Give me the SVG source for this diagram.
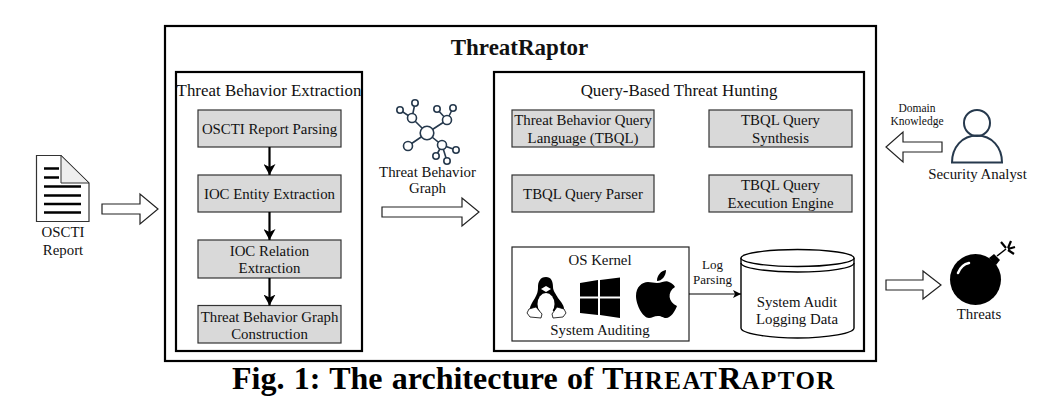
<svg xmlns="http://www.w3.org/2000/svg" width="1054" height="408" viewBox="0 0 1054 408">
<defs>
<marker id="ah" markerUnits="userSpaceOnUse" markerWidth="12" markerHeight="12" refX="11" refY="6" orient="auto"><path d="M0 0L11 6L0 12L3 6Z" fill="#000"/></marker>
<marker id="ahs" markerUnits="userSpaceOnUse" markerWidth="9" markerHeight="8" refX="8" refY="4" orient="auto"><path d="M0 0L8 4L0 8L2 4Z" fill="#000"/></marker>
</defs>
<style>
text{font-family:"Liberation Serif","Times New Roman",serif;font-size:14.850px;text-anchor:middle;fill:#111}
.panel{fill:#fff;stroke:#000;stroke-width:2.2}
.box rect{fill:#d9d9d9;stroke:#333;stroke-width:1.2}
.hollow{fill:#fff;stroke:#222;stroke-width:1.2}
.conn{stroke:#000;stroke-width:2.2;fill:none;marker-end:url(#ah)}
.g{fill:#fff;stroke:#26394d;stroke-width:1.6}
.gl{stroke:#26394d;stroke-width:1.6;fill:none}
.head{font-size:16.900px}
.small{font-size:11.500px}
.log{font-size:13px}
.sc{font-size:25px;letter-spacing:1.500px}
</style>
<rect width="1054" height="408" fill="#fff"/>
<g id="threatraptor"><rect class="panel" x="165" y="26" width="711" height="335"/><text x="519.500" y="55" style="font-size:23px;font-weight:bold">ThreatRaptor</text></g>
<g id="extraction"><rect class="panel" x="176" y="72" width="186" height="279"/><text class="head" x="269" y="96">Threat Behavior Extraction</text></g>
<g id="hunting"><rect class="panel" x="494" y="72" width="370" height="279"/><text class="head" x="679" y="96">Query-Based Threat Hunting</text></g>
<g id="n-parsing" class="box"><rect x="198" y="110" width="143" height="37"/><text x="269.500" y="134">OSCTI Report Parsing</text></g>
<g id="n-entity" class="box"><rect x="198" y="175" width="143" height="37"/><text x="269.500" y="199">IOC Entity Extraction</text></g>
<g id="n-relation" class="box"><rect x="198" y="240" width="143" height="38"/><text x="269.500" y="256">IOC Relation</text><text x="269.500" y="273">Extraction</text></g>
<g id="n-construction" class="box"><rect x="198" y="305.500" width="143" height="37.500"/><text x="269.500" y="322">Threat Behavior Graph</text><text x="269.500" y="339">Construction</text></g>
<g id="n-tbql" class="box"><rect x="512" y="110" width="142" height="37"/><text x="583" y="125">Threat Behavior Query</text><text x="583" y="143">Language (TBQL)</text></g>
<g id="n-synth" class="box"><rect x="709" y="110" width="143" height="37"/><text x="780.500" y="125">TBQL Query</text><text x="780.500" y="143">Synthesis</text></g>
<g id="n-parser" class="box"><rect x="512" y="175" width="142" height="37"/><text x="583" y="199">TBQL Query Parser</text></g>
<g id="n-engine" class="box"><rect x="709" y="175" width="143" height="37"/><text x="780.500" y="190">TBQL Query</text><text x="780.500" y="208">Execution Engine</text></g>
<g id="n-kernel">
<rect x="512" y="247" width="177" height="94" fill="#fff" stroke="#222" stroke-width="1.2"/>
<text x="600" y="265">OS Kernel</text><text x="600" y="335">System Auditing</text>
<g id="linux">
<path d="M546 277c-6 0-8 5-8 10 0 5-1 7-3 11-3 5-6 9-5 13l8 2 4-3h10l4 3 8-2c1-5-3-9-6-13-2-4-5-7-5-11 0-6-2-10-7-10z" fill="#000"/>
<ellipse cx="546" cy="304" rx="8.500" ry="11" fill="#fff"/>
<path d="M541 289l5-3 5 3-5 3z" fill="#fff"/>
<path d="M529 309l7-2 6 7-1 4-11-1-3-4zM564 309l-7-2-5 7 1 4 10-1 3-4z" fill="#fff" stroke="#000" stroke-width="0.800"/>
</g>
<path id="windows" d="M580 283l18-3v16.500h-18zM600 280l20-2.500v19h-20zM580 298.500h18v16.500l-18-2zM600 298.500h20v19.500l-20-3z" fill="#000"/>
<path id="apple" d="M657 283c5 0 9-3 12-1 3 1 5 3 6 5-8 5-7 15 2 19-2 5-6 12-11 12-3 0-4-2-8-2s-6 2-9 2c-6 0-13-13-13-22 0-9 6-14 12-14 3 0 6 1 9 1zM657 281c0-6 4-10 9-11 0 6-4 11-9 11z" fill="#000"/>
</g>
<g id="n-audit">
<path d="M741 258v70c0 5 25 10 56.500 10s56.500-5 56.500-10v-70" fill="#fff" stroke="#000" stroke-width="1.4"/>
<ellipse cx="797.500" cy="258" rx="56.500" ry="8.500" fill="#fff" stroke="#000" stroke-width="1.400"/>
<path d="M741 263c0 5 25 9 56.500 9s56.500-4 56.500-9" fill="none" stroke="#000" stroke-width="1.400"/>
<text x="797" y="307">System Audit</text><text x="797" y="324">Logging Data</text>
</g>
<g id="n-report">
<path d="M36.500 155.500H61L89 183V221.500H36.500Z" fill="#fff" stroke="#333" stroke-width="1.200"/>
<path d="M61 155.500L89 183H61Z" fill="#eee" stroke="#333" stroke-width="1"/>
<path d="M44 168.500H59M44 177.500H59M44 186.500H81M44 195.500H81M44 204H81M44 212.500H81" stroke="#000" stroke-width="2.400"/>
<text x="63" y="237">OSCTI</text><text x="63" y="255">Report</text>
</g>
<g id="n-graph">
<path class="gl" d="M427 133L412 118L400 110M412 118L415 103M427 133L447 120L437 109M447 120L453 108M427 133L442 145L456 150M442 145L436 156M442 145L447 161M427 133L408 146"/>
<circle class="g" cx="427" cy="133" r="6.800"/><circle class="g" cx="412" cy="118" r="4.500"/><circle class="g" cx="447" cy="120" r="4.500"/><circle class="g" cx="442" cy="145" r="4.500"/><circle class="g" cx="408" cy="146" r="4.500"/>
<circle class="g" cx="400" cy="110" r="3.200"/><circle class="g" cx="415" cy="103" r="3.200"/><circle class="g" cx="437" cy="109" r="3.200"/><circle class="g" cx="453" cy="108" r="3.200"/><circle class="g" cx="456" cy="150" r="3.200"/><circle class="g" cx="436" cy="156" r="3.200"/><circle class="g" cx="447" cy="161" r="3.200"/>
<text x="427.500" y="177">Threat Behavior</text><text x="427.500" y="193">Graph</text>
</g>
<g id="n-analyst">
<circle cx="977" cy="123" r="13" fill="none" stroke="#26394d" stroke-width="2"/>
<path d="M952 162.500c0-15 10-27 25-27s25 12 25 27z" fill="none" stroke="#26394d" stroke-width="2"/>
<text x="977.500" y="179">Security Analyst</text>
</g>
<g id="n-threats">
<circle cx="975.500" cy="279.500" r="25.500" fill="#000"/>
<path d="M989 258l5-4 6 6-4 5z" fill="#000"/>
<path d="M997 256l9-7" stroke="#000" stroke-width="1.500"/>
<path d="M1001 242l5 6M1011 241l-3 7M1015 247l-7 2M1014 254l-6-4" stroke="#000" stroke-width="2.200"/>
<path d="M958 273c2-5 6-9 11-10" fill="none" stroke="#fff" stroke-width="2.500" stroke-linecap="round"/>
<text x="979" y="319">Threats</text>
</g>
<g id="connectors">
<path class="conn" d="M269.500 147V175"/><path class="conn" d="M269.500 212V240"/><path class="conn" d="M269.500 278V305.500"/>
<path d="M689 294H741" stroke="#000" stroke-width="1.200" fill="none" marker-end="url(#ahs)"/>
<path class="hollow" d="M102 204H140V194L158 209L140 224V214H102Z"/>
<path class="hollow" d="M382 207H462V198L479 212L462 226V217H382Z"/>
<path class="hollow" d="M942 142H903V132L886 147L903 162V152H942Z"/>
<path class="hollow" d="M886 280H923V271L941 285L923 299V290H886Z"/>
</g>
<g id="labels">
<text class="log" x="712.500" y="269">Log</text><text class="log" x="712.500" y="284">Parsing</text>
<text class="small" x="917" y="112">Domain</text><text class="small" x="917" y="125">Knowledge</text>
</g>
<text x="534" y="389" style="font-size:32px;font-weight:bold;fill:#000;word-spacing:1.300px">Fig. 1: The architecture of T<tspan class="sc">HREAT</tspan>R<tspan class="sc">APTOR</tspan></text>
</svg>
